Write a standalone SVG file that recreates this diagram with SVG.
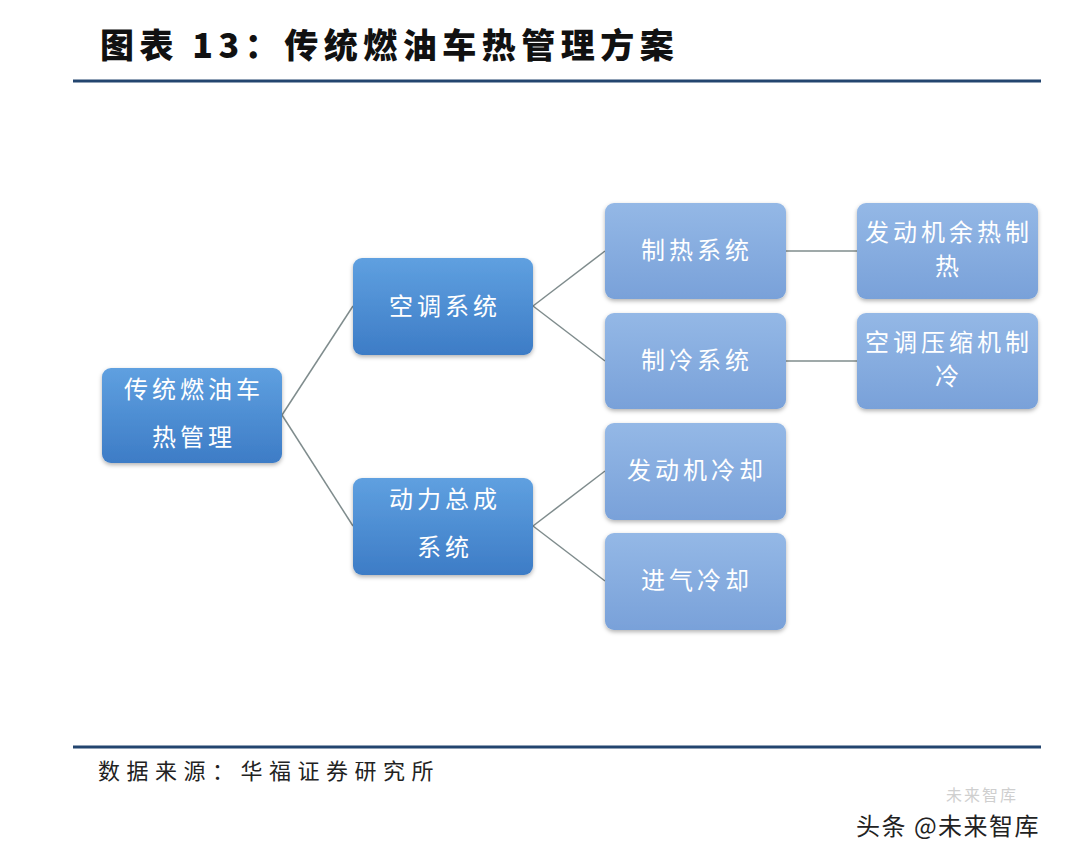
<svg xmlns="http://www.w3.org/2000/svg" width="1080" height="858" viewBox="0 0 1080 858">
<style>
.t{font-family:"Noto Sans CJK SC","Noto Sans",sans-serif;}
.lab{font-family:"Noto Sans CJK SC","Noto Sans",sans-serif;font-size:24px;fill:#ffffff;text-anchor:middle;letter-spacing:4px;}
.dark{fill:url(#gd);filter:url(#sh);}
.light{fill:url(#gl);filter:url(#sh);}
.conn line{stroke:#7f8c8d;stroke-width:1.5;}
</style>
<defs>
<linearGradient id="gd" x1="0" y1="0" x2="0" y2="1">
<stop offset="0" stop-color="#5fa0e0"/>
<stop offset="1" stop-color="#3d7cc6"/>
</linearGradient>
<linearGradient id="gl" x1="0" y1="0" x2="0" y2="1">
<stop offset="0" stop-color="#94b8e6"/>
<stop offset="1" stop-color="#79a1d9"/>
</linearGradient>
<filter id="sh" x="-10%" y="-10%" width="120%" height="125%">
<feDropShadow dx="0" dy="2" stdDeviation="2" flood-color="#000" flood-opacity="0.3"/>
</filter>
</defs>
<rect width="1080" height="858" fill="#ffffff"/>
<text class="t" x="100" y="58" font-size="34" font-weight="900" fill="#111" letter-spacing="5.5">图表 13：传统燃油车热管理方案</text>
<line x1="73" y1="81" x2="1041" y2="81" stroke="#23456f" stroke-width="3"/>
<g class="conn" id="connectors">
<line x1="282" y1="415" x2="353" y2="306"/>
<line x1="282" y1="415" x2="353" y2="526"/>
<line x1="533" y1="306" x2="605" y2="251"/>
<line x1="533" y1="306" x2="605" y2="361"/>
<line x1="533" y1="526" x2="605" y2="471"/>
<line x1="533" y1="526" x2="605" y2="581"/>
<line x1="786" y1="251" x2="857" y2="251"/>
<line x1="786" y1="361" x2="857" y2="361"/>
</g>
<g id="root"><rect class="dark" x="102" y="368" width="180" height="95" rx="9"/>
<text class="lab" x="194" y="398">传统燃油车</text><text class="lab" x="194" y="446">热管理</text></g>
<g id="ac"><rect class="dark" x="353" y="258" width="180" height="97" rx="9"/>
<text class="lab" x="445" y="315">空调系统</text></g>
<g id="power"><rect class="dark" x="353" y="478" width="180" height="97" rx="9"/>
<text class="lab" x="445" y="508">动力总成</text><text class="lab" x="445" y="556">系统</text></g>
<g id="heat"><rect class="light" x="605" y="203" width="181" height="96" rx="9"/>
<text class="lab" x="697" y="259">制热系统</text></g>
<g id="cool"><rect class="light" x="605" y="313" width="181" height="96" rx="9"/>
<text class="lab" x="697" y="369">制冷系统</text></g>
<g id="engcool"><rect class="light" x="605" y="423" width="181" height="97" rx="9"/>
<text class="lab" x="697" y="479">发动机冷却</text></g>
<g id="intake"><rect class="light" x="605" y="533" width="181" height="97" rx="9"/>
<text class="lab" x="697" y="589">进气冷却</text></g>
<g id="waste"><rect class="light" x="857" y="203" width="181" height="96" rx="9"/>
<text class="lab" x="949" y="241">发动机余热制</text><text class="lab" x="949" y="275">热</text></g>
<g id="comp"><rect class="light" x="857" y="313" width="181" height="96" rx="9"/>
<text class="lab" x="949" y="351">空调压缩机制</text><text class="lab" x="949" y="385">冷</text></g>
<line x1="73" y1="747" x2="1041" y2="747" stroke="#23456f" stroke-width="3"/>
<text class="t" x="98" y="779" font-size="22" fill="#222" letter-spacing="6.5">数据来源：华福证券研究所</text>
<text class="t" x="946" y="801" font-size="16" fill="#cfcfcf" letter-spacing="2">未来智库</text>
<text class="t" x="856" y="835" font-size="24" fill="#222" letter-spacing="1.5">头条 @未来智库</text>
</svg>
